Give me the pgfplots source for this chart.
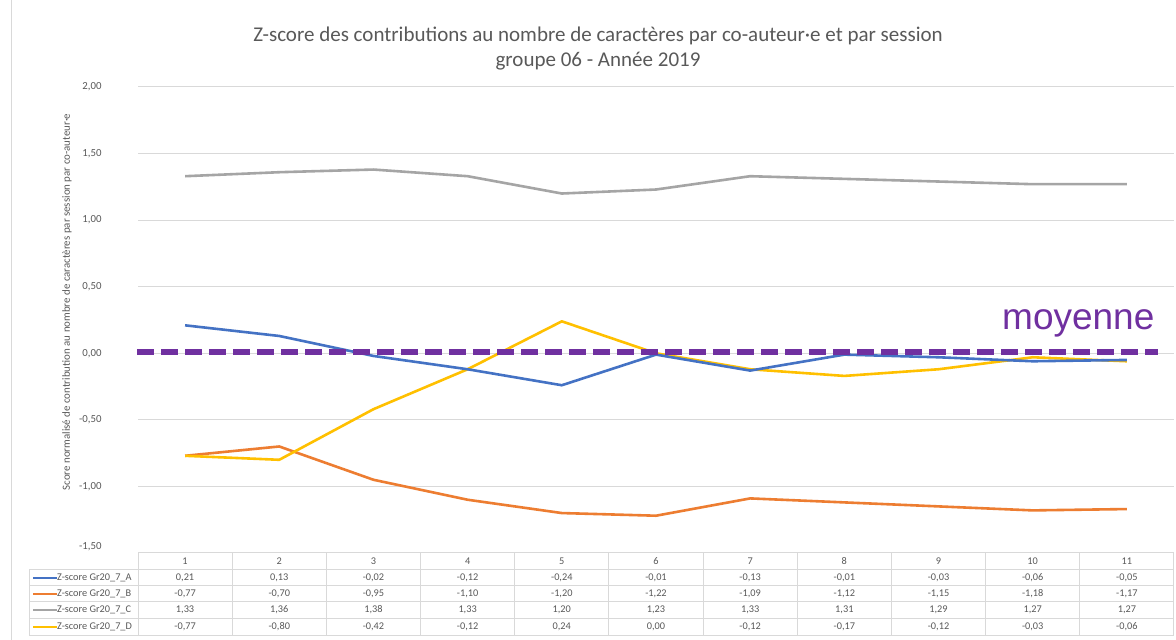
\documentclass[border=0pt]{standalone}
\usepackage{pgfplots}
\usepackage{pgfplotstable}
\pgfplotsset{compat=1.18}
\usepackage{fontspec}
\setmainfont{Carlito}
\newfontfamily\arialfont{Liberation Sans}
\definecolor{cA}{HTML}{4472C4}
\definecolor{cB}{HTML}{ED7D31}
\definecolor{cC}{HTML}{A5A5A5}
\definecolor{cD}{HTML}{FFC000}
\definecolor{txt}{HTML}{595959}
\definecolor{grid}{HTML}{D9D9D9}
\definecolor{purp}{HTML}{7030A0}
\pgfplotstableread{
x A B C D
1 0.21 -0.77 1.33 -0.77
2 0.13 -0.70 1.36 -0.80
3 -0.02 -0.95 1.38 -0.42
4 -0.12 -1.10 1.33 -0.12
5 -0.24 -1.20 1.20 0.24
6 -0.01 -1.22 1.23 0.00
7 -0.13 -1.09 1.33 -0.12
8 -0.01 -1.12 1.31 -0.17
9 -0.03 -1.15 1.29 -0.12
10 -0.06 -1.18 1.27 -0.03
11 -0.05 -1.17 1.27 -0.06
}\datatable
\begin{document}
\begin{tikzpicture}[x=1pt,y=1pt]
\path[use as bounding box] (0,0) rectangle (1176,640);
\fill[white] (0,0) rectangle (1176,640);
\draw[grid, line width=1pt] (11,0) -- (11,640);
\begin{axis}[
  at={(138pt,87pt)}, anchor=south west,
  scale only axis, width=1036pt, height=466pt,
  xmin=0.5, xmax=11.5, ymin=-1.5, ymax=2,
  axis lines=none,
  clip=false,
  ytick=\empty,
  xtick=\empty,
]
\foreach \v in {-1,-0.5,0,0.5,1,1.5,2} {
  \edef\tmp{\noexpand\draw[grid, line width=1pt] (axis cs:0.5,\v) -- (axis cs:11.5,\v);}\tmp
  \edef\tmp{\noexpand\node[anchor=east, text=txt, font=\noexpand\fontsize{10.8}{12}\noexpand\selectfont] at ([xshift=-33pt]axis cs:0.5,\v) {\noexpand\pgfmathprintnumber[fixed,fixed zerofill,precision=2,use comma,assume math mode=true]{\v}};}\tmp
}
\node[anchor=east, text=txt, font=\fontsize{10.8}{12}\selectfont] at ([xshift=-33pt,yshift=6pt]axis cs:0.5,-1.5) {-1,50};
\addplot[cC, line width=2.6pt, line join=round] table[x=x,y=C] {\datatable};
\addplot[cB, line width=2.6pt, line join=round] table[x=x,y=B] {\datatable};
\addplot[cD, line width=2.6pt, line join=round] table[x=x,y=D] {\datatable};
\addplot[cA, line width=2.6pt, line join=round] table[x=x,y=A] {\datatable};
\addplot[purp, line width=6pt, dash pattern=on 17pt off 7pt] coordinates {(0.49,0.012) (11.33,0.012)};
\end{axis}
% title
\node[text=txt, font=\fontsize{21}{24}\selectfont] at (598,604) {Z-score des contributions au nombre de caractères par co-auteur·e et par session};
\node[text=txt, font=\fontsize{21}{24}\selectfont] at (598,579) {groupe 06 - Année 2019};
% y label
\node[rotate=90, text=txt, font=\fontsize{10.9}{12}\selectfont] at (67,338) {Score normalisé de contribution au nombre de caractères par session par co-auteur·e};
% moyenne
\node[anchor=base west, text=purp, inner sep=0pt, font=\arialfont\fontsize{37}{40}\selectfont] at (1002,310) {moyenne};
% data table
\def\cw{94.18}
\foreach \k in {0,...,11} {
  \draw[grid, line width=1pt] ({138+\cw*\k},87) -- ({138+\cw*\k},4);
}
\draw[grid, line width=1pt] (29,70) -- (29,4);
\draw[grid, line width=1pt] (138,87) -- (1174,87);
\foreach \yy in {70,54,38,21,4} {
  \draw[grid, line width=1pt] (29,\yy) -- (1174,\yy);
}
\foreach \i in {1,...,11} {
  \node[text=txt, font=\fontsize{10.3}{12}\selectfont] at ({138+\cw*(\i-0.5)},79) {\i};
}
\foreach \s/\c/\yy in {A/cA/62,B/cB/46,C/cC/30,D/cD/13} {
  \draw[\c, line width=2.6pt] (33,\yy) -- (57,\yy);
  \node[anchor=west, inner sep=0pt, text=txt, font=\fontsize{10.3}{12}\selectfont] at (57,\yy) {Z-score Gr20\_7\_\s};
  \foreach \i in {0,...,10} {
    \pgfplotstablegetelem{\i}{\s}\of\datatable
    \node[text=txt, font=\fontsize{10.3}{12}\selectfont] at ({138+\cw*(\i+0.5)},\yy) {\pgfmathprintnumber[fixed,fixed zerofill,precision=2,use comma,assume math mode=true]{\pgfplotsretval}};
  }
}
\end{tikzpicture}
\end{document}
